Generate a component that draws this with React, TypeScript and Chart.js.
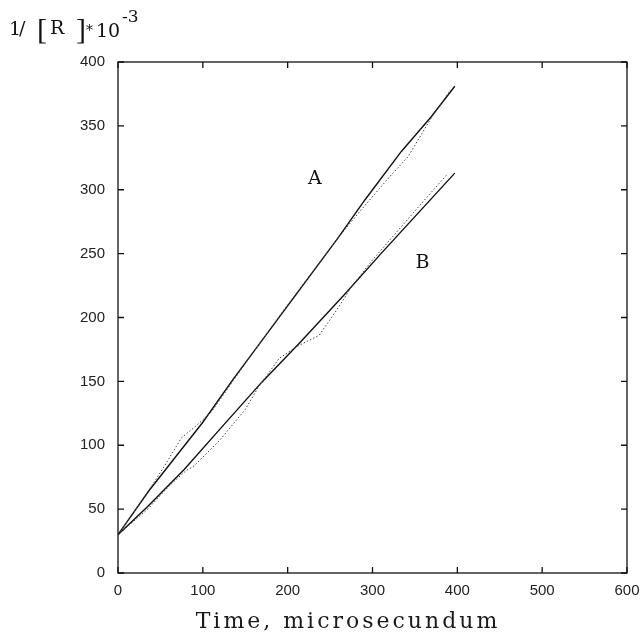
import React, { useEffect, useRef } from "react";
import { Chart, registerables } from "chart.js";

Chart.register(...registerables);

// ---- tick values ----
const X_TICKS = [0, 100, 200, 300, 400, 500, 600];
const Y_TICKS = [0, 50, 100, 150, 200, 250, 300, 350, 400];

// ---- series A (fit, solid) ----
const aFitTime = [0, 36, 100, 135, 259, 291, 334, 369, 397];
const aFitValue = [30, 64, 118, 151, 262, 292, 330, 357, 381];
// ---- series A (experimental, dotted) ----
const aExpTime = [0, 30, 55, 75, 90, 110, 150, 200, 259, 285, 320, 342, 370, 392];
const aExpValue = [30, 58, 84, 106, 114, 126, 164, 210, 262, 283, 310, 326, 357, 378];

// ---- series B (fit, solid) ----
const bFitTime = [0, 35, 78, 122, 169, 214, 267, 310, 397];
const bFitValue = [30, 52, 81, 114, 149, 180, 218, 250, 313];
// ---- series B (experimental, dotted) ----
const bExpTime = [0, 35, 60, 80, 90, 120, 150, 165, 190, 210, 237, 260, 275, 300, 330, 360, 388];
const bExpValue = [30, 50, 68, 80, 84, 104, 128, 145, 168, 177, 186, 208, 224, 245, 268, 291, 312];

// ---- curve labels ----
const LABEL_A = { text: "A", t: 232, v: 308 };
const LABEL_B = { text: "B", t: 359, v: 243 };

const X_TITLE = "Time, microsecundum";

const toPts = (ts: number[], vs: number[]) => ts.map((t, i) => ({ x: t, y: vs[i] }));

const framePlugin = {
  id: "frame",
  afterDatasetsDraw(chart: any) {
    const { ctx, chartArea: ca, scales } = chart;
    ctx.save();
    ctx.strokeStyle = "#111";
    ctx.lineWidth = 1.3;
    ctx.strokeRect(ca.left, ca.top, ca.right - ca.left, ca.bottom - ca.top);
    const tl = 6;
    ctx.beginPath();
    for (const v of X_TICKS) {
      const px = scales.x.getPixelForValue(v);
      ctx.moveTo(px, ca.bottom);
      ctx.lineTo(px, ca.bottom - tl);
      ctx.moveTo(px, ca.top);
      ctx.lineTo(px, ca.top + tl);
    }
    for (const v of Y_TICKS) {
      const py = scales.y.getPixelForValue(v);
      ctx.moveTo(ca.left, py);
      ctx.lineTo(ca.left + tl, py);
      ctx.moveTo(ca.right, py);
      ctx.lineTo(ca.right - tl, py);
    }
    ctx.stroke();

    // curve labels
    ctx.fillStyle = "#111";
    ctx.font = '19px "DejaVu Serif"';
    ctx.textAlign = "center";
    ctx.textBaseline = "middle";
    for (const L of [LABEL_A, LABEL_B]) {
      ctx.fillText(L.text, scales.x.getPixelForValue(L.t), scales.y.getPixelForValue(L.v));
    }

    // x title
    ctx.fillStyle = "#1a1a1a";
    ctx.font = '22px "DejaVu Serif"';
    const anyCtx = ctx as any;
    anyCtx.letterSpacing = "3px";
    ctx.textAlign = "center";
    ctx.textBaseline = "alphabetic";
    ctx.fillText(X_TITLE, 348, 628);
    anyCtx.letterSpacing = "0px";

    // y title: 1/[R ]*10^-3
    ctx.fillStyle = "#111";
    ctx.textAlign = "left";
    ctx.textBaseline = "alphabetic";
    const base = 35;
    ctx.font = '19px "DejaVu Serif"';
    ctx.fillText("1", 9, base);
    ctx.fillText("/", 19, base);
    ctx.font = '30px "Liberation Serif"';
    ctx.fillText("[", 37, base + 4);
    ctx.font = '19px "DejaVu Serif"';
    ctx.fillText("R", 50, base - 1);
    ctx.font = '30px "Liberation Serif"';
    ctx.fillText("]", 76, base + 4);
    ctx.font = '14px "DejaVu Serif"';
    ctx.fillText("*", 86, base);
    ctx.font = '19px "DejaVu Serif"';
    ctx.fillText("10", 96, base + 2);
    ctx.font = '17px "DejaVu Serif"';
    ctx.fillText("-3", 122, base - 13);
    ctx.restore();
  },
};

export default function App() {
  const ref = useRef<HTMLCanvasElement | null>(null);
  useEffect(() => {
    if (!ref.current) return;
    const tickFont = { family: '"Liberation Sans", Arial, sans-serif', size: 15 };
    const chart = new Chart(ref.current, {
      type: "line",
      data: {
        datasets: [
          {
            data: toPts(aExpTime, aExpValue),
            borderColor: "#444",
            borderWidth: 1,
            borderDash: [1.5, 2],
            pointRadius: 0,
            tension: 0,
          },
          {
            data: toPts(bExpTime, bExpValue),
            borderColor: "#444",
            borderWidth: 1,
            borderDash: [1.5, 2],
            pointRadius: 0,
            tension: 0,
          },
          {
            data: toPts(aFitTime, aFitValue),
            borderColor: "#111",
            borderWidth: 1.4,
            pointRadius: 0,
            tension: 0,
          },
          {
            data: toPts(bFitTime, bFitValue),
            borderColor: "#111",
            borderWidth: 1.4,
            pointRadius: 0,
            tension: 0,
          },
        ],
      },
      options: {
        responsive: false,
        animation: false,
        layout: { padding: { left: 0, right: 17, top: 62, bottom: 0 } },
        plugins: { legend: { display: false }, tooltip: { enabled: false } },
        scales: {
          x: {
            type: "linear",
            min: 0,
            max: 600,
            afterBuildTicks: (s: any) => {
              s.ticks = X_TICKS.map((v) => ({ value: v }));
            },
            ticks: { font: tickFont, color: "#222", padding: 9, maxRotation: 0 },
            grid: { display: false, drawTicks: false },
            border: { display: false },
            afterFit: (s: any) => {
              s.height = 71;
              s.paddingLeft = 0;
              s.paddingRight = 0;
            },
          },
          y: {
            type: "linear",
            min: 0,
            max: 400,
            afterBuildTicks: (s: any) => {
              s.ticks = Y_TICKS.map((v) => ({ value: v }));
            },
            ticks: { font: tickFont, color: "#222", padding: 13 },
            grid: { display: false, drawTicks: false },
            border: { display: false },
            afterFit: (s: any) => {
              s.width = 118;
              s.paddingTop = 0;
              s.paddingBottom = 0;
            },
          },
        },
      },
      plugins: [framePlugin],
    } as any);
    return () => chart.destroy();
  }, []);
  return (
    <div style={{ position: "absolute", left: 0, top: 0, width: 644, height: 644, background: "#fff" }}>
      <canvas ref={ref} width={644} height={644} style={{ width: 644, height: 644 }} />
    </div>
  );
}
